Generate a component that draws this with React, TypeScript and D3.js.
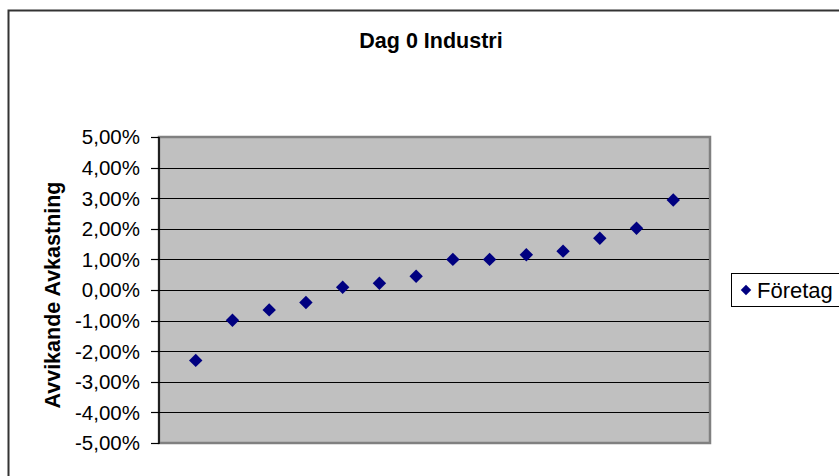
import React, { useEffect, useRef } from "react";
import * as d3 from "d3";

// Chart data
const companies: number[] = [1, 2, 3, 4, 5, 6, 7, 8, 9, 10, 11, 12, 13, 14];
const abnormalReturn: number[] = [
  -2.3, -0.99, -0.65, -0.41, 0.09, 0.22, 0.45, 1.0, 1.0, 1.15, 1.27, 1.69, 2.02, 2.94,
];
const yTickValues: number[] = [5, 4, 3, 2, 1, 0, -1, -2, -3, -4, -5];
const chartTitle = "Dag 0 Industri";
const yAxisTitle = "Avvikande Avkastning";
const seriesName = "Företag";

const App: React.FC = () => {
  const svgRef = useRef<SVGSVGElement | null>(null);

  useEffect(() => {
    if (!svgRef.current) return;
    const svg = d3.select(svgRef.current);
    svg.selectAll("*").remove();

    const width = 839;
    const height = 476;
    const font = "'Liberation Sans', Arial, sans-serif";
    const plot = { left: 159, right: 710, top: 137, bottom: 443 };

    svg.attr("width", width).attr("height", height);

    // Background and outer chart frame
    svg.append("rect").attr("width", width).attr("height", height).attr("fill", "#fff");
    svg
      .append("rect")
      .attr("x", 8.5)
      .attr("y", 10.5)
      .attr("width", width + 20)
      .attr("height", height + 20)
      .attr("fill", "none")
      .attr("stroke", "#333")
      .attr("stroke-width", 2);

    // Title
    svg
      .append("text")
      .attr("x", 431)
      .attr("y", 48)
      .attr("text-anchor", "middle")
      .attr("font-family", font)
      .attr("font-weight", "bold")
      .attr("font-size", "21.5px")
      .text(chartTitle);

    const xScale = d3.scaleLinear().domain([0, 15]).range([plot.left, plot.right]);
    const yScale = d3.scaleLinear().domain([-5, 5]).range([plot.bottom, plot.top]);

    // Plot area
    svg
      .append("rect")
      .attr("x", plot.left)
      .attr("y", plot.top)
      .attr("width", plot.right - plot.left)
      .attr("height", plot.bottom - plot.top)
      .attr("fill", "#c0c0c0")
      .attr("stroke", "#808080")
      .attr("stroke-width", 2.5);

    // Gridlines
    svg
      .append("g")
      .selectAll("line")
      .data(yTickValues.filter((d) => d !== 5 && d !== -5))
      .enter()
      .append("line")
      .attr("x1", plot.left)
      .attr("x2", plot.right - 1)
      .attr("y1", (d) => Math.round(yScale(d)) + 0.5)
      .attr("y2", (d) => Math.round(yScale(d)) + 0.5)
      .attr("stroke", "#000")
      .attr("stroke-width", 1.2);

    // Y axis line, ticks and labels
    const yAxisGroup = svg.append("g");
    yAxisGroup
      .append("line")
      .attr("x1", plot.left)
      .attr("x2", plot.left)
      .attr("y1", plot.top)
      .attr("y2", plot.bottom + 1)
      .attr("stroke", "#000")
      .attr("stroke-width", 1.5);
    yAxisGroup
      .selectAll(".tick")
      .data(yTickValues)
      .enter()
      .append("line")
      .attr("class", "tick")
      .attr("x1", plot.left - 8)
      .attr("x2", plot.left)
      .attr("y1", (d) => Math.round(yScale(d)) + 0.5)
      .attr("y2", (d) => Math.round(yScale(d)) + 0.5)
      .attr("stroke", "#000")
      .attr("stroke-width", 1.2);
    yAxisGroup
      .selectAll("text")
      .data(yTickValues)
      .enter()
      .append("text")
      .attr("x", 140)
      .attr("y", (d) => yScale(d))
      .attr("dy", "0.36em")
      .attr("text-anchor", "end")
      .attr("font-family", font)
      .attr("font-size", "20.5px")
      .text((d) => d.toFixed(2).replace(".", ",") + "%");

    // Y axis title
    svg
      .append("text")
      .attr("transform", `translate(60, 295) rotate(-90)`)
      .attr("text-anchor", "middle")
      .attr("font-family", font)
      .attr("font-weight", "bold")
      .attr("font-size", "21.5px")
      .text(yAxisTitle);

    // Diamond markers
    const diamond = d3.symbol().type(d3.symbolDiamond2).size(115);
    svg
      .append("g")
      .selectAll("path")
      .data(companies)
      .enter()
      .append("path")
      .attr("d", diamond)
      .attr("transform", (d, i) => `translate(${xScale(d)}, ${yScale(abnormalReturn[i])})`)
      .attr("fill", "#000080");

    // Legend
    const legend = svg.append("g");
    legend
      .append("rect")
      .attr("x", 731.5)
      .attr("y", 273.5)
      .attr("width", 120)
      .attr("height", 33)
      .attr("fill", "#fff")
      .attr("stroke", "#000")
      .attr("stroke-width", 1);
    legend
      .append("path")
      .attr("d", d3.symbol().type(d3.symbolDiamond2).size(70))
      .attr("transform", "translate(746, 290)")
      .attr("fill", "#000080");
    legend
      .append("text")
      .attr("x", 757)
      .attr("y", 298)
      .attr("font-family", font)
      .attr("font-size", "22px")
      .text(seriesName);
  }, []);

  return (
    <div style={{ position: "absolute", left: 0, top: 0, width: 839, height: 476, overflow: "hidden" }}>
      <svg ref={svgRef} style={{ display: "block" }} />
    </div>
  );
};

export default App;
